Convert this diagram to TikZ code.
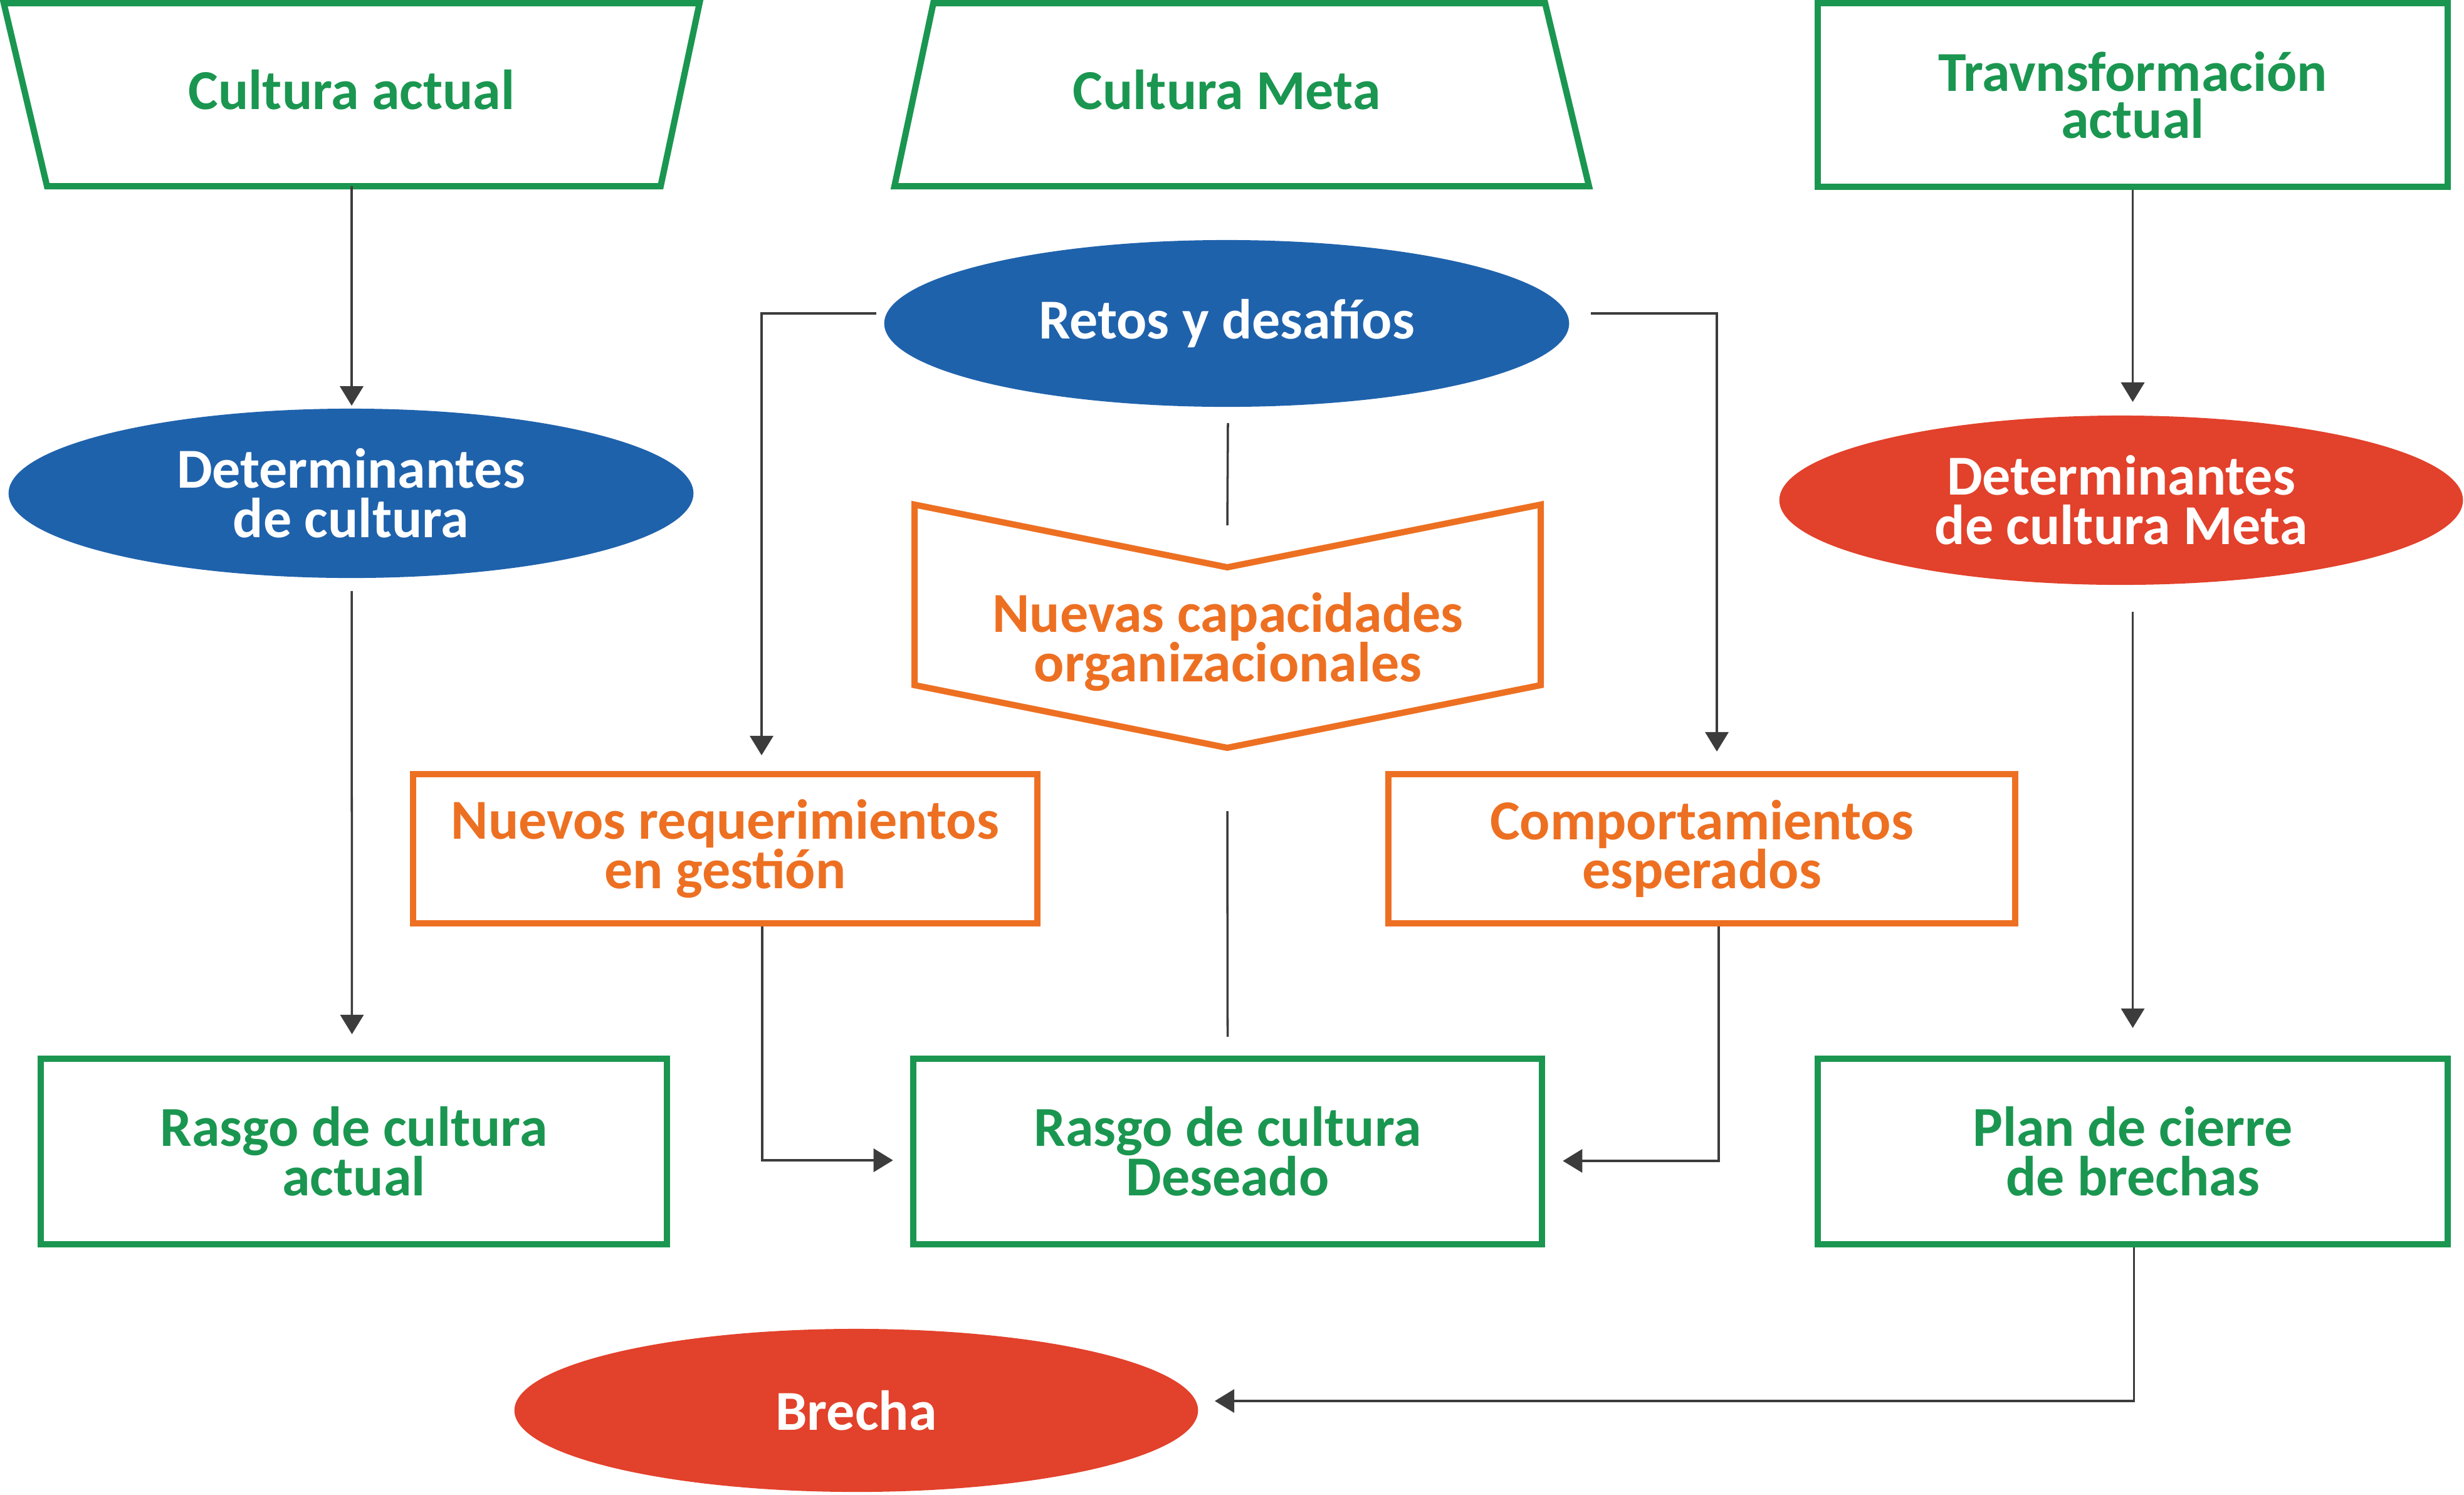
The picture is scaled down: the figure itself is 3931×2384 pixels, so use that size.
\documentclass[tikz,border=0pt]{standalone}
\usepackage{fontspec}
\setmainfont{Carlito}
\usetikzlibrary{shapes.geometric,calc,arrows.meta}
\definecolor{cgreen}{RGB}{26,150,80}
\definecolor{cblue}{RGB}{31,98,172}
\definecolor{cred}{RGB}{226,65,43}
\definecolor{corange}{RGB}{237,112,34}
\definecolor{cline}{RGB}{60,60,60}
\newcommand\tfont{\fontsize{25.6pt}{22.4pt}\selectfont\bfseries}
\begin{document}
\begin{tikzpicture}[x=0.01cm,y=-0.01cm,
  gbox/.style={draw=cgreen,line width=2.85pt,text=cgreen,align=center,inner sep=0pt,font=\tfont},
  obox/.style={draw=corange,line width=2.85pt,text=corange,align=center,inner sep=0pt,font=\tfont},
  ell/.style={ellipse,fill=#1,text=white,align=center,inner sep=0pt,font=\tfont},
  lbl/.style={align=center,inner sep=0pt,font=\tfont},
  conn/.style={draw=cline,line width=1pt},
  arr/.style={conn,-{Triangle[length=0.31cm,width=0.37cm]}}]
\useasboundingbox (0,0) rectangle (3931,2384);
% trapezoid Cultura actual
\draw[cgreen,line width=2.85pt,line join=miter] (6,5) -- (1116,5) -- (1054,297) -- (75,297) -- cycle;
\node[lbl,text=cgreen] (ca) at (561,143) {Cultura actual};
\coordinate (cab) at (561,297);
% trapezoid Cultura Meta
\draw[cgreen,line width=2.85pt,line join=miter] (1489,5) -- (2465,5) -- (2535,297) -- (1427,297) -- cycle;
\node[lbl,text=cgreen] (cm) at (1957,143) {Cultura Meta};
% Travnsformacion
\node[gbox,minimum width=10.05cm,minimum height=2.93cm] (ta) at (3402.5,151.5) {Travnsformación\\[-1pt]actual};
% ellipses
\node[ell=cblue,minimum width=10.92cm,minimum height=2.66cm] (re) at (1957,516) {Retos y desafíos};
\node[ell=cblue,minimum width=10.92cm,minimum height=2.70cm] (dc) at (560,787) {Determinantes\\de cultura};
\node[ell=cred,minimum width=10.9cm,minimum height=2.70cm] (dm) at (3384,798) {Determinantes\\de cultura Meta};
\node[ell=cred,minimum width=10.9cm,minimum height=2.60cm] (br) at (1366,2250) {Brecha};
% chevron
\coordinate (chn) at (1958,905);
\coordinate (chb) at (1958,1193);
\draw[corange,line width=2.85pt,line join=miter] (1459,805) -- (chn) -- (2458,805) -- (2458,1093) -- (chb) -- (1459,1093) -- cycle;
\node[lbl,text=corange] (ch) at (1959,1024) {Nuevas capacidades\\organizacionales};
% orange boxes
\node[obox,minimum width=9.96cm,minimum height=2.38cm] (nr) at (1157,1354) {Nuevos requerimientos\\en gestión};
\node[obox,minimum width=10cm,minimum height=2.38cm] (ce) at (2715,1354) {Comportamientos\\esperados};
% bottom boxes
\node[gbox,minimum width=9.99cm,minimum height=2.96cm] (ra) at (564.5,1837) {Rasgo de cultura\\actual};
\node[gbox,minimum width=10.03cm,minimum height=2.96cm] (rd) at (1958.5,1837) {Rasgo de cultura\\Deseado};
\node[gbox,minimum width=10.05cm,minimum height=2.96cm] (pc) at (3402.5,1837) {Plan de cierre\\de brechas};
% connectors
\draw[arr] (cab) -- ($(dc.north)+(1,-4)$);
\draw[arr] ($(dc.south)+(1,20)$) -- ($(ra.north)+(-3,-34)$);
\draw[arr] ($(re.west)+(-12,-16)$) -| ($(nr.north)+(58,-25)$);
\draw[arr] ($(re.east)+(34,-16)$) -| ($(ce.north)+(24,-31)$);
\draw[conn] ($(re.south)+(2,25)$) -- ($(chn)+(0,-67)$);
\draw[conn] ($(chb)+(0,101)$) -- ($(rd.north)+(0,-30)$);
\draw[arr] ($(nr.south)+(59,0)$) |- ($(rd.west)+(-27,14)$);
\draw[arr] ($(ce.south)+(27,0)$) |- ($(rd.east)+(28,15)$);
\draw[arr] (ta.south) -- ($(ta.south |- dm.north)+(0,-21)$);
\draw[arr] ($(pc.north |- dm.south)+(0,42)$) -- ($(pc.north)+(0,-44)$);
\draw[arr] ($(pc.south)+(2,0)$) |- ($(br.east)+(26,-15)$);
\end{tikzpicture}
\end{document}
